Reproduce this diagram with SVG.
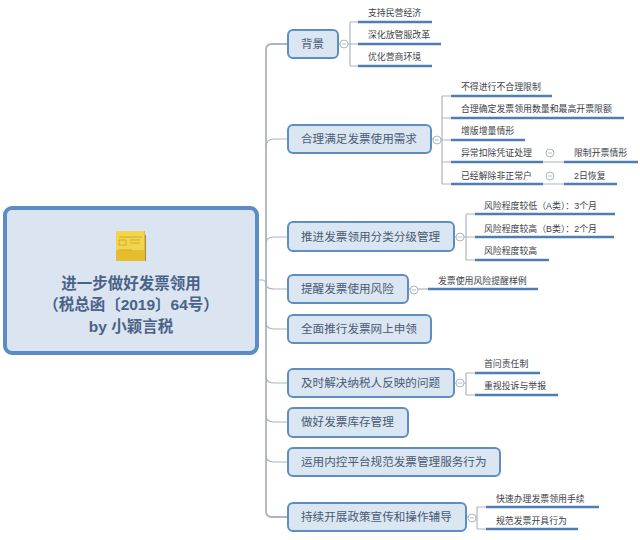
<svg xmlns="http://www.w3.org/2000/svg" width="640" height="540" viewBox="0 0 640 540">
<style>
text{font-family:"Liberation Sans","Noto Sans CJK SC",sans-serif}
.n{fill:#dbe6f3;stroke:#5f8dc0;stroke-width:2}
.nt{font-size:11.6px;fill:#4a5a72}
.st{font-size:8.9px;fill:#3c4046}
.u{stroke:#4f7fb2;stroke-width:2.5;fill:none}
.c{stroke:#aeb4bb;stroke-width:1.2;fill:none}
.k{fill:#fff;stroke:#9fb0b8;stroke-width:.9}
.m{stroke:#9fb0b8;stroke-width:.8}
.rt{font-size:15.5px;font-weight:bold;fill:#4a6288;text-anchor:middle}
</style>
<rect width="640" height="540" fill="#fff"/>
<g id="connectors">
<path class="c" style="stroke-width:1.8" d="M288 44H272Q266 44 266 50V511Q266 517 272 517H288"/>
<path class="c" d="M266 147Q266 139 274 139H288M266 244Q266 237 274 237H288M257 280H262Q266 280 266 284Q266 289 274 289H288M266 322Q266 329 274 329H288M266 376Q266 383 274 383H288M266 415Q266 422 274 422H288M266 455Q266 462 274 462H288"/>
<path class="c" d="M338 44H350M350 22V66M350 22H358M350 44H358M350 66H358"/>
<path class="c" d="M431 139H442M442 96V184M442 96H451M442 118H451M442 140H451M442 162H451M442 184H451"/>
<path class="u" d="M358 22H432M358 44H441M358 66H432"/>
<path class="u" d="M451 96H552M451 118H624M451 140H525M451 162H543M451 184H543M564 162H638M564 184H617"/>
<path class="c" d="M543 162H564M543 184H564"/>
<path class="c" d="M454 237H466M466 214V260M466 214H475M466 237H475M466 260H475"/>
<path class="u" d="M475 214H615M475 237H614M475 260H549"/>
<path class="c" d="M408 289H428"/>
<path class="u" d="M428 289H538"/>
<path class="c" d="M454 383H466M466 373V395M466 373H475M466 395H475"/>
<path class="u" d="M475 373H540M475 395H558"/>
<path class="c" d="M466 517H477M477 507V529M477 507H486M477 529H486"/>
<path class="u" d="M486 507H599M486 529H578"/>
</g>
<g id="root">
<rect x="5" y="208" width="252" height="145" rx="7" fill="#dbe5f1" stroke="#5b8cc6" stroke-width="4"/>
<path d="M116 231H145V261H116Z" fill="#e6bd2c"/>
<path d="M116 231H144V250H116Z" fill="#f2d54a"/>
<path d="M145 235H146V261H145Z" fill="#9a8a50"/>
<path d="M119 237H142M119 240H126V245H119ZM130 240H140M130 243H140M119 250H132" stroke="#c9a52a" stroke-width=".8" fill="none"/>
<text class="rt" x="131" y="289">进一步做好发票领用</text>
<text class="rt" x="131" y="310">（税总函〔2019〕64号）</text>
<text class="rt" x="131" y="332">by 小颖言税</text>
</g>
<g id="n1"><rect class="n" x="288" y="30" width="50" height="28" rx="5"/><text class="nt" x="301" y="48">背景</text>
<circle class="k" cx="344" cy="44" r="4"/><path class="m" d="M342 44H346"/></g>
<g id="n1a"><text class="st" x="368" y="16">支持民营经济</text><text class="st" x="368" y="38">深化放管服改革</text><text class="st" x="368" y="60">优化营商环境</text></g>
<g id="n2"><rect class="n" x="288" y="125" width="143" height="28" rx="5"/><text class="nt" x="301" y="143">合理满足发票使用需求</text>
<circle class="k" cx="437" cy="140" r="4"/><path class="m" d="M435 140H439"/></g>
<g id="n2a"><text class="st" x="461" y="90">不得进行不合理限制</text><text class="st" x="461" y="112">合理确定发票领用数量和最高开票限额</text><text class="st" x="461" y="134">增版增量情形</text><text class="st" x="461" y="156">异常扣除凭证处理</text><text class="st" x="461" y="179">已经解除非正常户</text>
<circle class="k" cx="550" cy="153" r="4"/><path class="m" d="M548 153H552"/><circle class="k" cx="550" cy="176" r="4"/><path class="m" d="M548 176H552"/>
<text class="st" x="574" y="156">限制开票情形</text><text class="st" x="574" y="179">2日恢复</text></g>
<g id="n3"><rect class="n" x="288" y="222" width="166" height="29" rx="5"/><text class="nt" x="301" y="241">推进发票领用分类分级管理</text>
<circle class="k" cx="460" cy="237" r="4"/><path class="m" d="M458 237H462"/></g>
<g id="n3a"><text class="st" x="484" y="209">风险程度较低（A类）：3个月</text><text class="st" x="484" y="232">风险程度较高（B类）：2个月</text><text class="st" x="484" y="254">风险程度较高</text></g>
<g id="n4"><rect class="n" x="288" y="275" width="120" height="28" rx="5"/><text class="nt" x="301" y="293">提醒发票使用风险</text>
<circle class="k" cx="414" cy="290" r="4"/><path class="m" d="M412 290H416"/></g>
<g id="n4a"><text class="st" x="438" y="284">发票使用风险提醒样例</text></g>
<g id="n5"><rect class="n" x="288" y="315" width="143" height="28" rx="5"/><text class="nt" x="301" y="333">全面推行发票网上申领</text></g>
<g id="n6"><rect class="n" x="288" y="369" width="166" height="28" rx="5"/><text class="nt" x="301" y="387">及时解决纳税人反映的问题</text>
<circle class="k" cx="460" cy="383" r="4"/><path class="m" d="M458 383H462"/></g>
<g id="n6a"><text class="st" x="484" y="367">首问责任制</text><text class="st" x="484" y="389">重视投诉与举报</text></g>
<g id="n7"><rect class="n" x="288" y="408" width="120" height="29" rx="5"/><text class="nt" x="301" y="426">做好发票库存管理</text></g>
<g id="n8"><rect class="n" x="288" y="448" width="212" height="28" rx="5"/><text class="nt" x="301" y="466">运用内控平台规范发票管理服务行为</text></g>
<g id="n9"><rect class="n" x="288" y="503" width="178" height="28" rx="5"/><text class="nt" x="301" y="521">持续开展政策宣传和操作辅导</text>
<circle class="k" cx="472" cy="518" r="4"/><path class="m" d="M470 518H474"/></g>
<g id="n9a"><text class="st" x="496" y="502">快速办理发票领用手续</text><text class="st" x="496" y="524">规范发票开具行为</text></g>
</svg>
